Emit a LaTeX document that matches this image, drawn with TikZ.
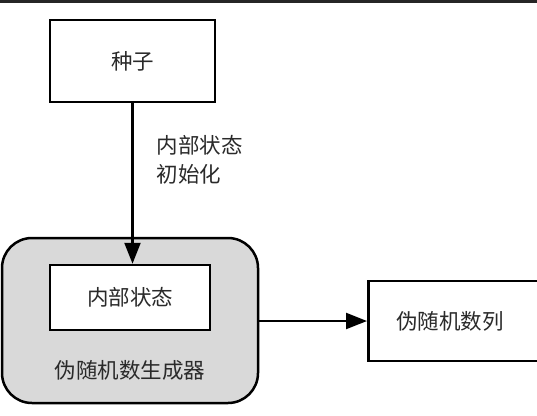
\documentclass[tikz,border=0pt]{standalone}
\usepackage{fontspec}
\setmainfont{Noto Sans CJK SC}
\usetikzlibrary{arrows.meta}
\definecolor{txt}{HTML}{2A2A2A}
\definecolor{genfill}{HTML}{D9D9D9}
\begin{document}
\begin{tikzpicture}[x=1pt,y=-1pt,
  box/.style={draw=black, line width=2.5pt, fill=white, font=\fontsize{21.5}{24}\selectfont, text=txt},
  lbl/.style={font=\fontsize{21.5}{29}\selectfont, text=txt},
  conn/.style={draw=black, line width=2.3pt, -{Triangle[length=21pt,width=16pt]}}]
\useasboundingbox (0,0) rectangle (537,415);
\fill[black!85] (0,0) rectangle (537,2.5);
\node[box, minimum width=165pt, minimum height=82pt] (seed) at (132.5,61) {种子};
\node[draw=black, line width=2.5pt, fill=genfill, rounded corners=30pt, minimum width=256pt, minimum height=165pt] (gen) at (130,320.5) {};
\node[box, minimum width=160pt, minimum height=65pt] (state) at (130,297.5) {内部状态};
\node[lbl] (genlabel) at (130,370) {伪随机数生成器};
\node[lbl, anchor=west, align=left] (initlabel) at (153,160) {内部状态\\初始化};
\node[box, anchor=west, minimum height=80pt, inner xsep=28pt, text width=137pt, align=left] (out) at (367,321) {伪随机数列};
\draw[conn] (seed.south) -- (seed.south |- state.north);
\draw[conn] (gen.east |- out.west) -- (out.west);
\end{tikzpicture}
\end{document}
